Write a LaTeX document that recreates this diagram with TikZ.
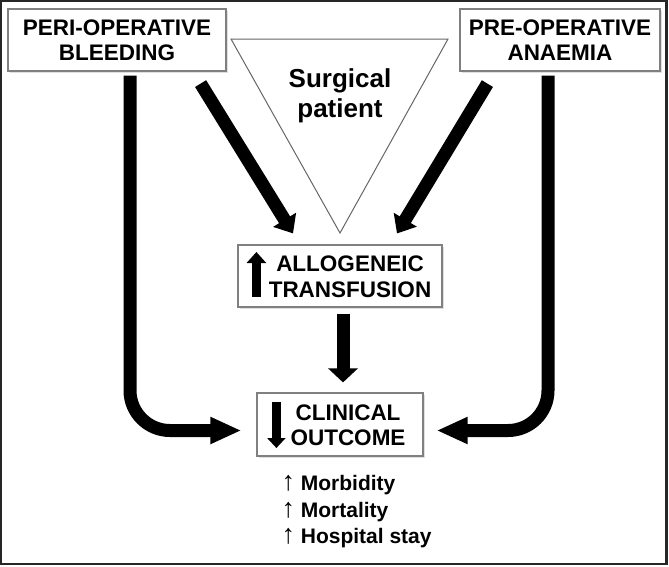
\documentclass[tikz,border=0pt]{standalone}
\usepackage{fontspec}
\setmainfont{Liberation Sans}
\usetikzlibrary{arrows.meta,shadows}
\begin{document}
\begin{tikzpicture}[x=1pt,y=-1pt]
	\tikzstyle{label}=[font=\fontsize{22.5}{25.5}\selectfont\bfseries,align=center,inner sep=0pt]
	\tikzstyle{box}=[label,rectangle,draw=black!50,line width=1.2pt,fill=white,drop shadow={shadow xshift=1.5pt,shadow yshift=-1.5pt,opacity=0.25}]
	\tikzstyle{fat}=[line width=13pt,black]
	\tikzstyle{slim}=[line width=9.5pt,black]
	\useasboundingbox (0,0) rectangle (669,566);
	\draw[black!85,line width=2.5pt] (1.2,1.2) rectangle (666.5,563.8);

	\draw[black!60,line width=1pt] (231,39) -- (448,39) -- (340,233) -- cycle;
	\node[font=\fontsize{26}{30.5}\selectfont\bfseries,align=center] (SP) at (340,96) {Surgical\\patient};

	\node[box,minimum width=218pt,minimum height=62pt] (PB) at (117,40) {PERI-OPERATIVE\\BLEEDING};
	\node[box,minimum width=200pt,minimum height=62pt] (PA) at (560,40) {PRE-OPERATIVE\\ANAEMIA};
	\node[box,minimum width=204pt,minimum height=62pt] (AT) at (340,276) {};
	\node[label] (ATt) at (350,276.5) {ALLOGENEIC\\TRANSFUSION};
	\node[box,minimum width=166pt,minimum height=63pt] (CO) at (340,424.5) {};
	\node[label] (COt) at (348,425) {CLINICAL\\OUTCOME};

	\node[anchor=north west,align=left,font=\fontsize{21}{26.5}\selectfont\bfseries] (LI) at (278,472)
		{{\mdseries\fontsize{27}{26.5}\selectfont ↑} Morbidity\\{\mdseries\fontsize{27}{26.5}\selectfont ↑} Mortality\\{\mdseries\fontsize{27}{26.5}\selectfont ↑} Hospital stay};

	\draw[slim,-{Triangle[length=11pt,width=19pt]}] ([shift={(19,21)}]AT.west) -- ([shift={(19,-24)}]AT.west);
	\draw[slim,-{Triangle[length=10pt,width=18pt]}] ([shift={(20,-22.5)}]CO.west) -- ([shift={(20,23.5)}]CO.west);

	\draw[fat,-{Triangle[length=16pt,width=26pt]}] ([shift={(-26,12)}]PB.south east) -- ([shift={(-47,-11)}]AT.north);
	\draw[fat,-{Triangle[length=16pt,width=26pt]}] ([shift={(28,12)}]PA.south west) -- ([shift={(57,-11)}]AT.north);
	\draw[fat,-{Triangle[length=14pt,width=29pt]}] ([shift={(3,6)}]AT.south) -- ([shift={(3,-10)}]CO.north);

	\draw[fat,rounded corners=40pt,-{Triangle[length=31pt,width=25pt]}] ([shift={(13,4)}]PB.south) |- ([shift={(-15,6)}]CO.west);
	\draw[fat,rounded corners=40pt,-{Triangle[length=31pt,width=25pt]}] ([shift={(-12,4)}]PA.south) |- ([shift={(13,6)}]CO.east);
\end{tikzpicture}
\end{document}
